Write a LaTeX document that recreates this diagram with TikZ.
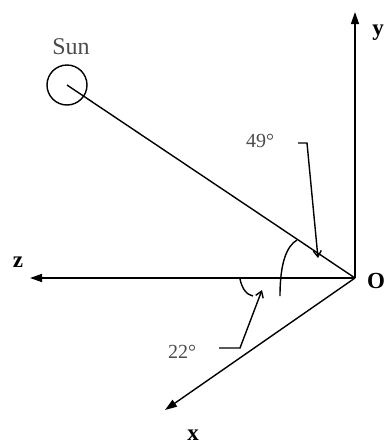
\documentclass[tikz,border=0pt]{standalone}
\usepackage{fontspec}
\setmainfont{Liberation Serif}
\usetikzlibrary{arrows.meta}
\begin{document}
\begin{tikzpicture}[x=1pt,y=-1pt, line width=1.4pt,
 axis/.style={-{Triangle[length=12pt,width=8pt]}},
 lbl/.style={font=\fontsize{23}{23}\selectfont\bfseries, inner sep=0},
 deg/.style={font=\fontsize{20}{20}\selectfont, text=black!70, inner sep=0},
 ptr/.style={-{Straight Barb[length=6pt,width=8pt]}}]
\useasboundingbox (0,0) rectangle (385,445);
\coordinate (O) at (355,278);
\coordinate (ytip) at (355,12);
\coordinate (ztip) at (30,278);
\coordinate (xtip) at (165,410);
\draw[axis] (O) -- (ytip);
\draw[axis] (O) -- (ztip);
\draw[axis] (O) -- (xtip);
\node[circle, draw, minimum size=40pt, inner sep=0] (sun) at (67,85) {};
\draw (sun.center) -- (O);
% labels
\node[deg, font=\fontsize{24}{24}\selectfont] (sunlbl) at (71,47) {Sun};
\node[lbl] (zl) at (18,262) {z};
\node[lbl] (ol) at (376,281) {O};
\node[lbl] (yl) at (378,33) {y};
\node[lbl] (xl) at (193,435) {x};
\node[deg] (d49) at (260,141) {49°};
\node[deg] (d22) at (182,352) {22°};
% arcs
\coordinate (a49s) at (297,240);
\coordinate (a49e) at (280,296);
\draw (a49s) .. controls (287,246) and (280,262) .. (a49e);
\coordinate (a22s) at (240,279);
\coordinate (a22e) at (253,296);
\draw (a22s) .. controls (242,289) and (247,295) .. (a22e);
% pointers
\coordinate (p49a) at (298,143);
\coordinate (p49b) at (307,143);
\coordinate (p49c) at (318,258);
\draw[ptr] (p49a) -- (p49b) -- (p49c);
\coordinate (p22a) at (219,348);
\coordinate (p22b) at (240,348);
\coordinate (p22c) at (262,290);
\draw[ptr] (p22a) -- (p22b) -- (p22c);
\end{tikzpicture}
\end{document}
